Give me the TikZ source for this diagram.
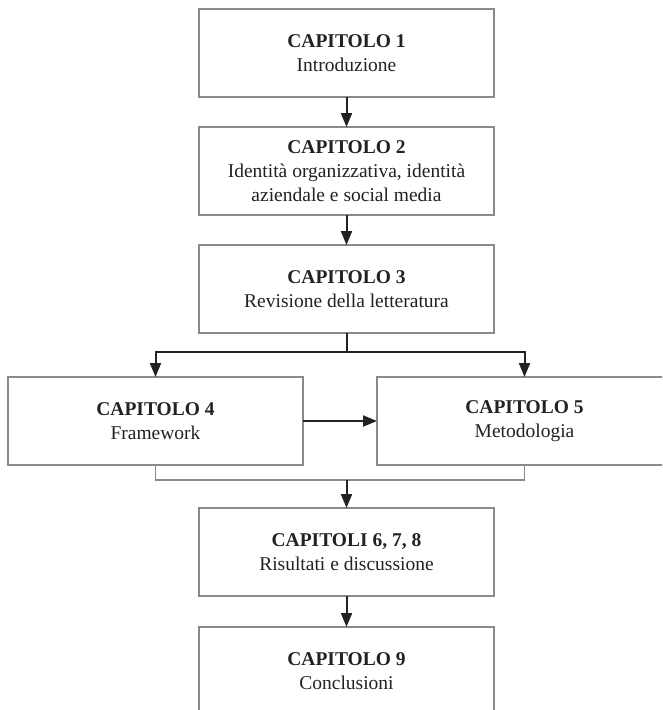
\documentclass[tikz,border=0pt]{standalone}
\usepackage{fontspec}
\setmainfont{Liberation Serif}
\usetikzlibrary{arrows.meta}
\definecolor{boxgray}{HTML}{8A8A8A}
\definecolor{ink}{HTML}{222222}
\begin{document}
\begin{tikzpicture}[x=1pt,y=-1pt,
  chbox/.style={draw=boxgray, line width=1.6pt, fill=white, minimum width=295pt,
    minimum height=88pt, inner sep=0pt, outer sep=0pt, align=center, text=ink,
    font=\fontsize{19.5}{24}\selectfont, anchor=north west},
  conn/.style={draw=ink, line width=2pt},
  arr/.style={conn, -{Triangle[length=14pt,width=11pt]}},
  thinconn/.style={draw=boxgray, line width=1.6pt}]
\useasboundingbox (0,0) rectangle (662,710);
\fill[white] (0,0) rectangle (662,710);
\clip (0,0) rectangle (662,710);

\node[chbox] (c1) at (199,9) {\textbf{CAPITOLO 1}\\Introduzione};
\node[chbox] (c2) at (199,127) {\textbf{CAPITOLO 2}\\Identità organizzativa, identità\\aziendale e social media};
\node[chbox] (c3) at (199,245) {\textbf{CAPITOLO 3}\\Revisione della letteratura};
\node[chbox] (c4) at (8,377) {\textbf{CAPITOLO 4}\\Framework};
\node[chbox] (c5) at (377,377) {\textbf{CAPITOLO 5}\\Metodologia};
\node[chbox] (c6) at (199,508) {\textbf{CAPITOLI 6, 7, 8}\\Risultati e discussione};
\node[chbox] (c9) at (199,627) {\textbf{CAPITOLO 9}\\Conclusioni};

\path (c3.south) ++(0,19) coordinate (j1);
\path (c6.north) ++(0,-28) coordinate (j2);

\draw[arr] (c1.south) -- (c2.north);
\draw[arr] (c2.south) -- (c3.north);
\draw[conn] (c3.south) -- (j1);
\draw[arr] (j1) -| (c4.north);
\draw[arr] (j1) -| (c5.north);
\draw[arr] (c4.east) -- (c5.west);
\draw[thinconn] (c4.south) |- (c5.south |- j2) -- (c5.south);
\draw[arr] (j2) -- (c6.north);
\draw[arr] (c6.south) -- (c9.north);
\end{tikzpicture}
\end{document}
